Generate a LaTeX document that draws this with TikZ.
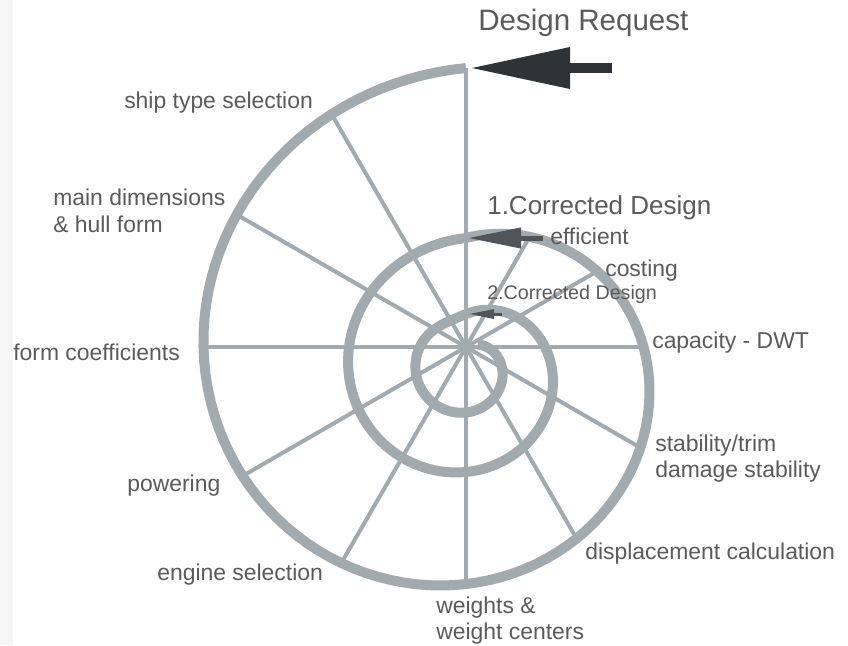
\documentclass[tikz,border=0pt]{standalone}
\usepackage{fontspec}
\setmainfont{Liberation Sans}
\usetikzlibrary{arrows.meta}
\definecolor{ringgray}{HTML}{A1AAAF}
\definecolor{textgray}{HTML}{5A5A5A}
\definecolor{arrowdark}{HTML}{2E3337}
\definecolor{arrowmid}{HTML}{4F555A}
\definecolor{stripgray}{HTML}{F6F6F6}
\tikzstyle{ring} = [draw=ringgray, line width=0.25cm, line join=round]
\tikzstyle{spoke} = [draw=ringgray, line width=0.1cm]
\tikzstyle{stage} = [text=textgray, font=\fontsize{16.3}{19.1}\selectfont, inner sep=0pt, anchor=west, align=left]
\tikzstyle{title} = [text=textgray, font=\fontsize{21}{25}\selectfont, inner sep=0pt, anchor=west]
\tikzstyle{request} = [draw=arrowdark, line width=0.25cm, -{Triangle[length=2.45cm, width=1.05cm, line width=0pt]}]
\tikzstyle{correction} = [draw=arrowmid, line width=0.125cm, -{Triangle[length=1.3cm, width=0.53cm, line width=0pt]}]
\tikzstyle{recorrection} = [draw=arrowmid, line width=0.075cm, -{Triangle[length=0.6cm, width=0.25cm, line width=0pt]}]
% radius of each turn of the spiral, seen from the hub
\tikzset{declare function={
  rone(\t)=302.75-0.472*(\t-90)-21.5*sin(\t)+2.25*cos(2*\t);
  rtwo(\t)=136-0.211*(\t-450)-27*sin(\t);
  rthree(\t)=65-0.175*(\t-810)-32*sin(\t)+3*cos(\t);
}}

\begin{document}
\begin{tikzpicture}[x=0.025cm, y=-0.025cm]

\fill[white] (0,0) rectangle (848,645);
\fill[stripgray] (0,0) rectangle (13,645);

% hub and the points where the spokes meet the outer turn
\coordinate (hub) at (466,347);
\foreach \a/\p in {90/90,120/120,150/150,180/180,210/210,240/240,270/270,300/300,330/330,0/360,30/390,60/420}
  \coordinate (o\a) at ({466+rone(\p)*cos(\p)}, {347-rone(\p)*sin(\p)});

\foreach \a in {0,30,...,330}
  \draw[spoke] (hub) -- (o\a);

% the spiral, three turns
\draw[ring] plot[domain=90:450, samples=121, variable=\t] ({466+rone(\t)*cos(\t)}, {347-rone(\t)*sin(\t)})
  -- plot[domain=450:810, samples=121, variable=\t] ({466+rtwo(\t)*cos(\t)}, {347-rtwo(\t)*sin(\t)})
  -- plot[domain=810:1092, samples=95, variable=\t] ({466+rthree(\t)*cos(\t)}, {347-rthree(\t)*sin(\t)});

% arrows into the spiral
\coordinate (reqtail) at (612,68);
\coordinate (reqtip) at (472,68);
\coordinate (corr1tail) at (543,238);
\coordinate (corr1tip) at (469,238);
\coordinate (corr2tail) at (502,314);
\coordinate (corr2tip) at (470,314);
\draw[request] (reqtail) -- (reqtip);
\draw[correction] (corr1tail) -- (corr1tip);
\draw[recorrection] (corr2tail) -- (corr2tip);

% labels
\node[title] (designrequest) at (478,23) {Design Request};
\node[stage, font=\fontsize{18.5}{22}\selectfont] (corrected1) at (487,208) {1.Corrected Design};
\node[stage, font=\fontsize{14}{17}\selectfont] (corrected2) at (487,294) {2.Corrected Design};
\node[stage] (shiptype) at (124,103) {ship type selection};
\node[stage] (dimensions) at (53,210.5) {main dimensions\\\& hull form};
\node[stage] (coefficients) at (13,352) {form coefficients};
\node[stage] (powering) at (127,486) {powering};
\node[stage] (engine) at (157,575) {engine selection};
\node[stage] (weights) at (436,620.5) {weights \&\\weight centers};
\node[stage] (displacement) at (585,554) {displacement calculation};
\node[stage] (stability) at (655,458.5) {stability/trim\\damage stability};
\node[stage] (capacity) at (652,343) {capacity - DWT};
\node[stage] (costing) at (605,271) {costing};
\node[stage] (efficient) at (550,236) {efficient};

\end{tikzpicture}
\end{document}
